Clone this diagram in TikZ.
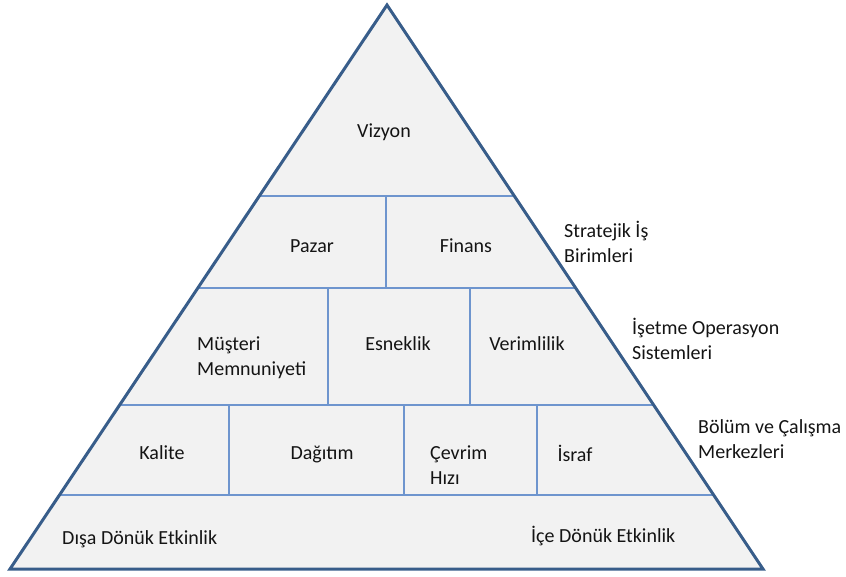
\documentclass[tikz,border=0pt]{standalone}
\usepackage{fontspec}
\setmainfont{Carlito}
\usetikzlibrary{calc}
\definecolor{edgeblue}{RGB}{56,93,138}
\definecolor{gridblue}{RGB}{110,149,206}
\definecolor{panel}{RGB}{242,242,242}
\definecolor{ink}{RGB}{20,20,20}
\begin{document}
\begin{tikzpicture}[x=1pt,y=-1pt,
  lbl/.style={font=\fontsize{20}{25}\selectfont, text=ink, inner sep=0pt, anchor=base},
  side/.style={lbl, anchor=base west, align=left},
  grid/.style={draw=gridblue, line width=1.4pt},
  outline/.style={draw=edgeblue, line width=3pt, line join=miter}]
\useasboundingbox (0,0) rectangle (846,576);
% pyramid corners
\coordinate (top) at (387,5);
\coordinate (bl) at (10,569);
\coordinate (br) at (763,569);
\fill[panel] (top) -- (bl) -- (br) -- cycle;
% level boundaries on both slopes
\coordinate (l1) at ($(top)!0.3387!(bl)$); \coordinate (r1) at ($(top)!0.3387!(br)$);
\coordinate (l2) at ($(top)!0.5018!(bl)$); \coordinate (r2) at ($(top)!0.5018!(br)$);
\coordinate (l3) at ($(top)!0.7092!(bl)$); \coordinate (r3) at ($(top)!0.7092!(br)$);
\coordinate (l4) at ($(top)!0.8688!(bl)$); \coordinate (r4) at ($(top)!0.8688!(br)$);
\draw[grid] (l1) -- (r1);
\draw[grid] (l2) -- (r2);
\draw[grid] (l3) -- (r3);
\draw[grid] (l4) -- (r4);
% cell dividers
\draw[grid] (386,196) -- (386,288);
\draw[grid] (328,288) -- (328,405);
\draw[grid] (470,288) -- (470,405);
\draw[grid] (229,405) -- (229,495);
\draw[grid] (404,405) -- (404,495);
\draw[grid] (537,405) -- (537,495);
\draw[outline] (top) -- (bl) -- (br) -- cycle;
% cell labels (multi-line nodes sit on the baseline of their last line)
\node[lbl] (vizyon) at (384,137) {Vizyon};
\node[lbl] (pazar) at (312,252) {Pazar};
\node[lbl] (finans) at (466,252) {Finans};
\node[side] (musteri) at (197,375) {Müşteri\\Memnuniyeti};
\node[lbl] (esneklik) at (398,350) {Esneklik};
\node[lbl] (verimlilik) at (527,350) {Verimlilik};
\node[lbl] (kalite) at (162,459) {Kalite};
\node[lbl] (dagitim) at (322,459) {Dağıtım};
\node[side] (cevrim) at (430,484) {Çevrim\\Hızı};
\node[lbl] (israf) at (575,461) {İsraf};
\node[side] (disa) at (62,544) {Dışa Dönük Etkinlik};
\node[side] (ice) at (531,542) {İçe Dönük Etkinlik};
% level names beside the slope
\node[side] (sib) at (564,262) {Stratejik İş\\Birimleri};
\node[side] (ios) at (632,359) {İşetme Operasyon\\Sistemleri};
\node[side] (bcm) at (698,458) {Bölüm ve Çalışma\\Merkezleri};
\end{tikzpicture}
\end{document}
